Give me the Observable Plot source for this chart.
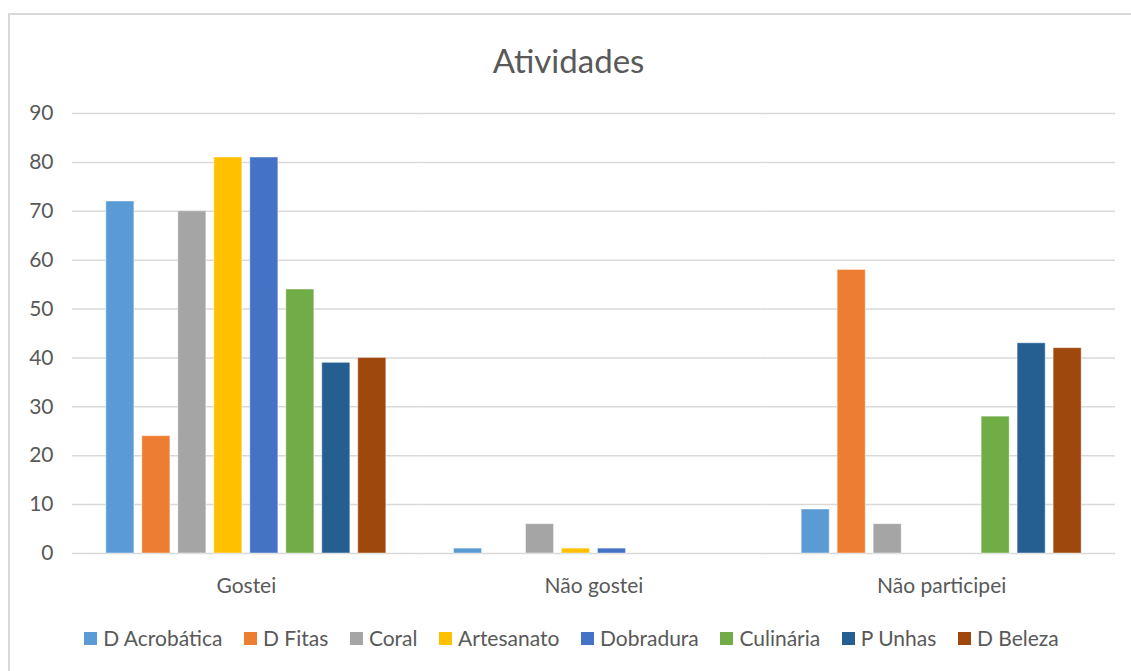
<!DOCTYPE html>
<html>
<head>
<meta charset="utf-8">
<script src="https://cdn.jsdelivr.net/npm/d3@7"></script>
<script src="https://cdn.jsdelivr.net/npm/@observablehq/plot@0.6"></script>
<style>
  html, body { margin: 0; padding: 0; background: #fff; overflow: hidden; }
  body { width: 1131px; height: 671px; position: relative; font-family: Lato, "Noto Sans", sans-serif; color: #595959; }
  #frame { position: absolute; left: 8px; top: 13px; width: 1200px; height: 700px; border: 2px solid #d9d9d9; box-sizing: border-box; pointer-events: none; z-index: 10; }
  #title { position: relative; margin-top: 40px; height: 40px; line-height: 40px; width: 1137px; text-align: center; font-size: 33px; color: #595959; }
  #chart { position: relative; }
  #chart svg { display: block; }
  #legend { position: relative; margin-top: 16px; width: 1143px; display: flex; justify-content: center; align-items: center; font-size: 21px; line-height: 24px; color: #595959; }
  .item { display: flex; align-items: center; margin: 0 10.8px; }
  .sw { width: 13px; height: 13px; margin-right: 6px; }
</style>
</head>
<body>
<div id="frame"></div>
<div id="title">Atividades</div>
<div id="chart"></div>
<div id="legend"></div>
<script>
const groups = ["Gostei", "Não gostei", "Não participei"];
const series = ["D Acrobática", "D Fitas", "Coral", "Artesanato", "Dobradura", "Culinária", "P Unhas", "D Beleza"];
const gostei = [72, 24, 70, 81, 81, 54, 39, 40];
const naoGostei = [1, 0, 6, 1, 1, 0, 0, 0];
const naoParticipei = [9, 58, 6, 0, 0, 28, 43, 42];
const colors = ["#5B9BD5", "#ED7D31", "#A5A5A5", "#FFC000", "#4472C4", "#70AD47", "#255E91", "#9E480E"];
const yTicks = [0, 10, 20, 30, 40, 50, 60, 70, 80, 90];

const valuesByGroup = [gostei, naoGostei, naoParticipei];
const data = [];
groups.forEach((g, gi) => series.forEach((s, si) => data.push({group: g, series: s, value: valuesByGroup[gi][si]})));

const chart = Plot.plot({
  width: 1131,
  height: 530,
  marginLeft: 72,
  marginRight: 16,
  marginTop: 33,
  marginBottom: 57,
  style: {fontFamily: "Lato, 'Noto Sans', sans-serif", fontSize: "21px", color: "#595959", background: "transparent"},
  fx: {domain: groups, padding: 0, label: null, round: false},
  x: {domain: series, paddingInner: 0.22, paddingOuter: 0.94, axis: null, round: false},
  y: {domain: [0, 90], axis: null},
  color: {domain: series, range: colors},
  marks: [
    Plot.ruleY(yTicks, {stroke: "#d9d9d9", strokeWidth: 1.5}),
    Plot.barY(data, {filter: d => d.value > 0, fx: "group", x: "series", y: "value", fill: "series", stroke: "white", strokeOpacity: 0.45, strokeWidth: 1}),
    Plot.axisY(yTicks, {tickSize: 0, tickPadding: 19, label: null, fill: "#595959", fontSize: 21}),
    Plot.axisFx({anchor: "bottom", tickSize: 0, tickPadding: 25, label: null, fill: "#595959", fontSize: 21})
  ]
});
document.getElementById("chart").appendChild(chart);

const legend = document.getElementById("legend");
series.forEach((s, i) => {
  const it = document.createElement("div");
  it.className = "item";
  const sw = document.createElement("span");
  sw.className = "sw";
  sw.style.background = colors[i];
  const tx = document.createElement("span");
  tx.textContent = s;
  it.appendChild(sw);
  it.appendChild(tx);
  legend.appendChild(it);
});
</script>
</body>
</html>
